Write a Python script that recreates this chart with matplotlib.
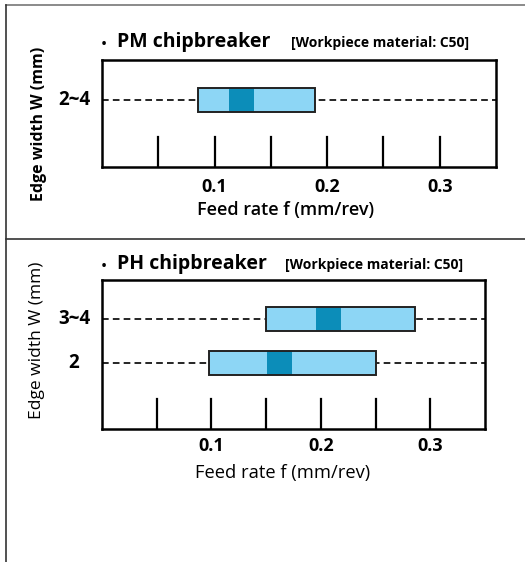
import matplotlib.pyplot as plt
from matplotlib.patches import Rectangle
from matplotlib.lines import Line2D
from matplotlib.transforms import ScaledTranslation, blended_transform_factory

W, H = 525, 562

# data
pm_rows = ['2~4']
pm_range = [(0.085, 0.189)]
pm_best = [(0.113, 0.135)]

ph_rows = ['3~4', '2']
ph_range = [(0.150, 0.286), (0.098, 0.250)]
ph_best = [(0.196, 0.218), (0.151, 0.174)]

xticks_major = [0.1, 0.2, 0.3]
xticks_all = [0.05, 0.1, 0.15, 0.2, 0.25, 0.3]

light = '#8DD6F5'
dark = '#0C8DB9'

plt.rcParams['font.family'] = ['Open Sans', 'DejaVu Sans']

fig = plt.figure(figsize=(W / 100, H / 100), dpi=100)


def px_axes(l, t, r, b):
    return fig.add_axes([l / W, 1 - b / H, (r - l) / W, (b - t) / H])


def ax_h(ax):
    return ax.get_position().height * H


def draw_panel(ax, rows, ranges, bests, ypos, pad):
    ax.set_xlim(0, 0.35)
    ax.set_ylim(0, 1)
    for sp in ax.spines.values():
        sp.set_linewidth(1.8)
    ax.set_yticks([])
    ax.set_xticks(xticks_major)
    ax.tick_params(axis='x', length=0, pad=pad)
    for lab in ax.get_xticklabels():
        lab.set_fontweight('bold')
        lab.set_fontsize(13)
    for t in xticks_all:
        ax.plot([t, t], [0, 30 / ax_h(ax)], color='black', lw=1.6)
    hh = 12 / ax_h(ax)
    lab_tr = blended_transform_factory(ax.transAxes, ax.transData) + \
        ScaledTranslation(-0.28, 0, fig.dpi_scale_trans)
    for name, (lo, hi), (blo, bhi), y in zip(rows, ranges, bests, ypos):
        ax.plot([0, 0.35], [y, y], color='black', lw=1.2, ls=(0, (4, 2.5)), zorder=1)
        ax.add_patch(Rectangle((lo, y - hh), hi - lo, 2 * hh, facecolor=light,
                               edgecolor='none', zorder=2))
        ax.add_patch(Rectangle((blo, y - hh), bhi - blo, 2 * hh, facecolor=dark,
                               edgecolor='none', zorder=3))
        ax.add_patch(Rectangle((lo, y - hh), hi - lo, 2 * hh, facecolor='none',
                               edgecolor='#222222', lw=1.4, zorder=4))
        ax.text(0, y, name, transform=lab_tr, ha='center', va='center',
                fontsize=13.5, fontweight='bold')


def title(y, name, bx):
    fig.text(101 / W, 1 - (y + 4) / H, u'\u00b7', fontsize=15, fontweight='bold',
             va='baseline')
    fig.text(117 / W, 1 - y / H, name, fontsize=14, fontweight='bold', va='baseline')
    fig.text(bx / W, 1 - (y + 0.5) / H, '[Workpiece material: C50]', fontsize=10,
             fontweight='bold', va='baseline')


# top panel
ax1 = px_axes(102, 60, 496, 167)
draw_panel(ax1, pm_rows, pm_range, pm_best, [(167 - 100) / 107], 8)
title(47, 'PM chipbreaker', 291)
fig.text(39 / W, 1 - 124 / H, 'Edge width W (mm)', rotation=90, ha='center',
         va='center', fontsize=11.5, fontweight='bold')
fig.text(286 / W, 1 - 210 / H, 'Feed rate f (mm/rev)', ha='center', va='center',
         fontsize=13, fontweight='semibold')

# bottom panel
ax2 = px_axes(102, 280, 485, 429)
draw_panel(ax2, ph_rows, ph_range, ph_best,
           [(429 - 319.3) / 149, (429 - 362.7) / 149], 5.5)
title(269, 'PH chipbreaker', 285)
fig.text(37 / W, 1 - 340 / H, 'Edge width W (mm)', rotation=90, ha='center',
         va='center', fontsize=12.5)
fig.text(283 / W, 1 - 473 / H, 'Feed rate f (mm/rev)', ha='center', va='center',
         fontsize=13.2)

# frame lines
fig.add_artist(Line2D([6 / W, 1], [1 - 5 / H, 1 - 5 / H], color='#777777', lw=1.2))
fig.add_artist(Line2D([6 / W, 6 / W], [0, 1 - 5 / H], color='#333333', lw=1.2))
fig.add_artist(Line2D([6 / W, 1], [1 - 238.5 / H, 1 - 238.5 / H], color='#333333', lw=1.2))

fig.savefig('out.png', dpi=100)
